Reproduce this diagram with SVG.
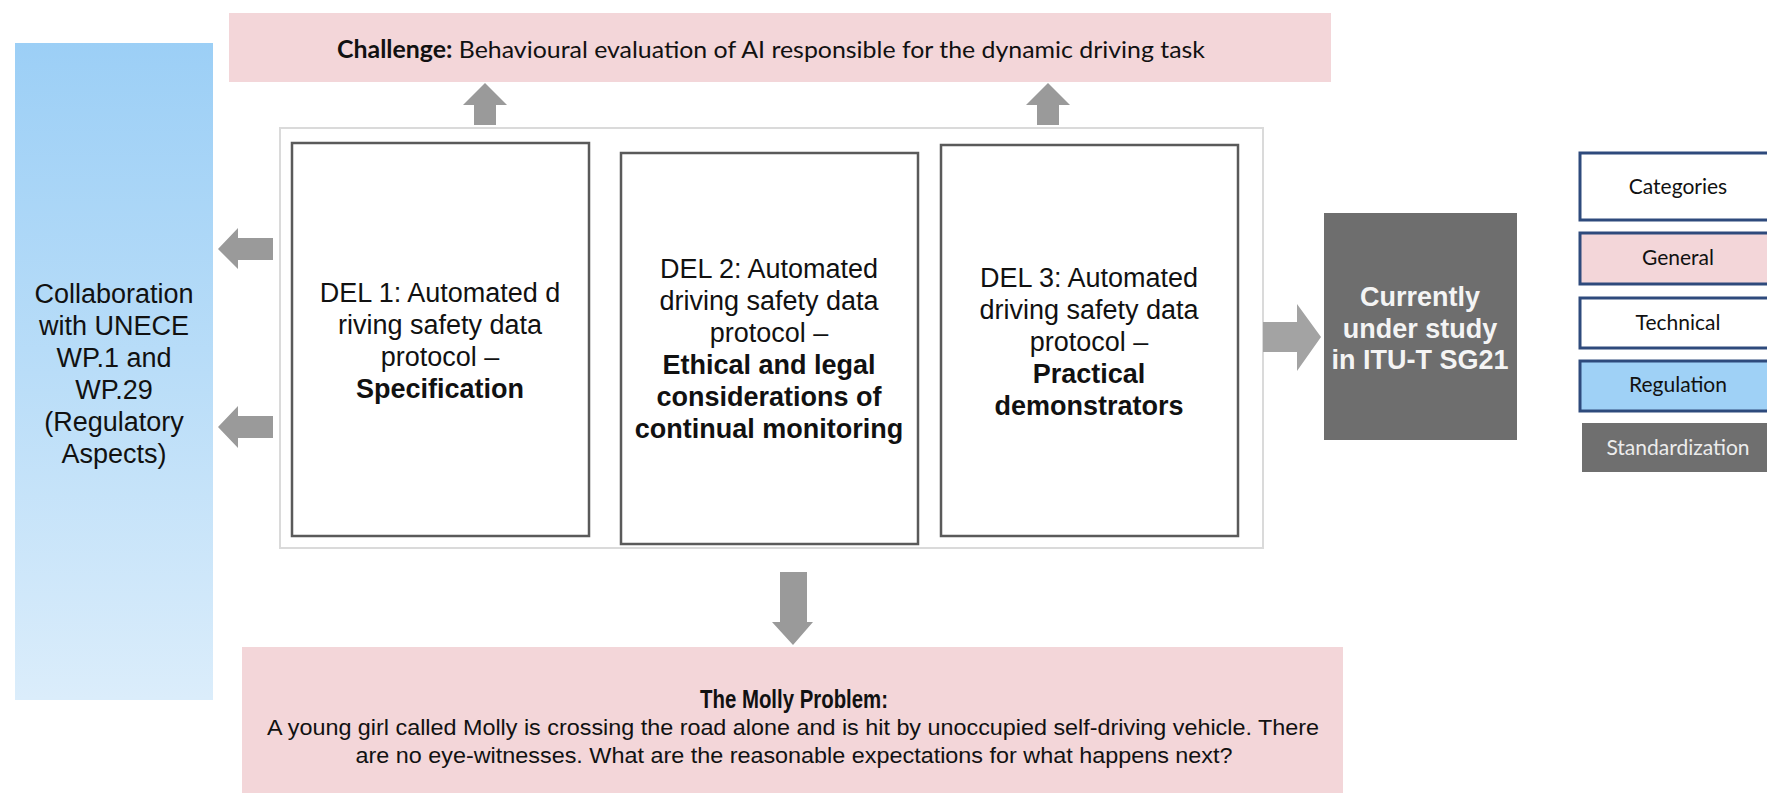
<svg xmlns="http://www.w3.org/2000/svg" width="1767" height="793" viewBox="0 0 1767 793">
<defs>
<linearGradient id="blueGrad" x1="0" y1="0" x2="0" y2="1">
<stop offset="0" stop-color="#9ccff6"/>
<stop offset="0.5" stop-color="#b9ddf8"/>
<stop offset="1" stop-color="#dbedfb"/>
</linearGradient>
<style>
.pink{fill:#f3d6d9}
.del{fill:#ffffff;stroke:#5a5a5a;stroke-width:2.5}
.arrow{fill:#9a9a9a}
.t{font-family:"Liberation Sans",Arial,sans-serif;font-size:27px;fill:#111;text-anchor:middle}
.b{font-weight:bold}
.cal{font-family:Lato,"Open Sans",sans-serif;fill:#111}
.leg{fill:#ffffff;stroke:#2e4a7c;stroke-width:3}
.legt{font-family:Lato,"Open Sans",sans-serif;font-size:21px;fill:#111;text-anchor:middle}
.molly{font-family:"Liberation Sans",Arial,sans-serif;font-size:22px;fill:#111;text-anchor:middle}
.mtitle{font-family:"Liberation Sans",Arial,sans-serif;font-size:26px;font-weight:bold;fill:#111;text-anchor:middle}
</style>
</defs>
<rect width="1767" height="793" fill="#ffffff"/>

<g id="regulatory">
<rect x="15" y="43" width="198" height="657" fill="url(#blueGrad)"/>
<text class="t"><tspan x="114" y="303">Collaboration</tspan><tspan x="114" y="335">with UNECE</tspan><tspan x="114" y="367">WP.1 and</tspan><tspan x="114" y="399">WP.29</tspan><tspan x="114" y="431">(Regulatory</tspan><tspan x="114" y="463">Aspects)</tspan></text>
</g>

<g id="challenge">
<rect class="pink" x="229" y="13" width="1102" height="69"/>
<text class="cal" x="337" y="58" font-size="24" textLength="868" lengthAdjust="spacingAndGlyphs"><tspan font-weight="bold">Challenge:</tspan> Behavioural evaluation of AI responsible for the dynamic driving task</text>
</g>

<g id="container">
<rect x="280" y="128" width="983" height="420" fill="#ffffff" stroke="#dadada" stroke-width="2"/>
</g>

<g id="del1">
<rect class="del" x="292" y="143" width="297" height="393"/>
<text class="t"><tspan x="440" y="302">DEL 1: Automated d</tspan><tspan x="440" y="334">riving safety data</tspan><tspan x="440" y="366">protocol –</tspan><tspan x="440" y="398" class="b">Specification</tspan></text>
</g>

<g id="del2">
<rect class="del" x="621" y="153" width="297" height="391"/>
<text class="t"><tspan x="769" y="278">DEL 2: Automated</tspan><tspan x="769" y="310">driving safety data</tspan><tspan x="769" y="342">protocol –</tspan><tspan x="769" y="374" class="b">Ethical and legal</tspan><tspan x="769" y="406" class="b">considerations of</tspan><tspan x="769" y="438" class="b">continual monitoring</tspan></text>
</g>

<g id="del3">
<rect class="del" x="941" y="145" width="297" height="391"/>
<text class="t"><tspan x="1089" y="287">DEL 3: Automated</tspan><tspan x="1089" y="319">driving safety data</tspan><tspan x="1089" y="351">protocol –</tspan><tspan x="1089" y="383" class="b">Practical</tspan><tspan x="1089" y="415" class="b">demonstrators</tspan></text>
</g>

<g id="study">
<rect x="1324" y="213" width="193" height="227" fill="#6e6e6e"/>
<text class="t b" style="fill:#f4f4f4"><tspan x="1420" y="306">Currently</tspan><tspan x="1420" y="338">under study</tspan><tspan x="1420" y="369">in ITU-T SG21</tspan></text>
</g>

<g id="molly">
<rect class="pink" x="242" y="647" width="1101" height="146"/>
<text class="mtitle" x="794" y="708" textLength="188" lengthAdjust="spacingAndGlyphs">The Molly Problem:</text>
<text class="molly" x="793" y="735" textLength="1052" lengthAdjust="spacingAndGlyphs">A young girl called Molly is crossing the road alone and is hit by unoccupied self-driving vehicle. There</text>
<text class="molly" x="794" y="763" textLength="877" lengthAdjust="spacingAndGlyphs">are no eye-witnesses. What are the reasonable expectations for what happens next?</text>
</g>

<g id="legend">
<g id="leg-categories"><rect class="leg" x="1580" y="153" width="210" height="67"/><text class="legt" x="1678" y="194">Categories</text></g>
<g id="leg-general"><rect class="leg" x="1580" y="233" width="210" height="51" style="fill:#f3d6d9"/><text class="legt" x="1678" y="265">General</text></g>
<g id="leg-technical"><rect class="leg" x="1580" y="298" width="210" height="50"/><text class="legt" x="1678" y="330">Technical</text></g>
<g id="leg-regulation"><rect class="leg" x="1580" y="361" width="210" height="50" style="fill:#9fd1f6"/><text class="legt" x="1678" y="392">Regulation</text></g>
<g id="leg-standardization"><rect x="1582" y="423" width="210" height="49" fill="#6f6f6f"/><text class="legt" x="1678" y="455" style="fill:#ececec">Standardization</text></g>
</g>

<g id="connectors">
<polygon class="arrow" points="474,125 474,105 463,105 485,83 507,105 496,105 496,125"/>
<polygon class="arrow" points="1037,125 1037,105 1026,105 1048,83 1070,105 1059,105 1059,125"/>
<polygon class="arrow" points="273,238 238,238 238,228 218,249 238,269 238,260 273,260"/>
<polygon class="arrow" points="273,416 238,416 238,406 218,427 238,448 238,438 273,438"/>
<polygon class="arrow" style="fill:#a3a3a3" points="1263,322 1297,322 1297,304 1321,337 1297,371 1297,352 1263,352"/>
<polygon class="arrow" points="780,572 807,572 807,622 813,622 793,645 772,622 780,622"/>
</g>
</svg>
